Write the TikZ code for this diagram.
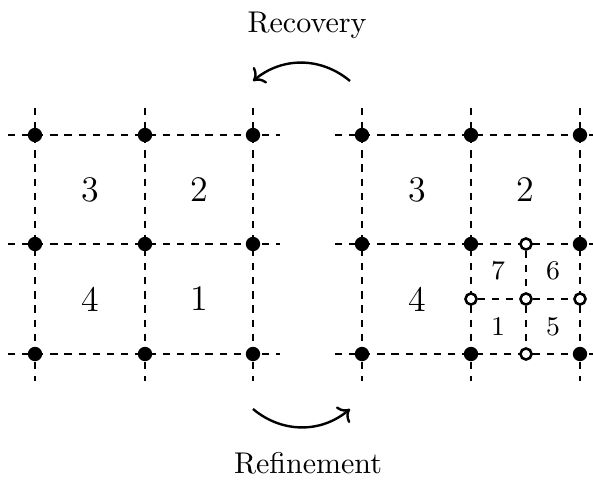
\documentclass[tikz,border=0pt]{standalone}
\usetikzlibrary{arrows.meta}
\begin{document}
\begin{tikzpicture}[x=0.3333pt,y=-0.3333pt,
  gridline/.style={dash pattern=on 2.4pt off 2.3pt, line width=0.85pt},
  fdot/.style={circle,fill=black,inner sep=0pt,minimum size=4.8pt},
  odot/.style={circle,draw=black,fill=white,line width=0.85pt,inner sep=0pt,minimum size=3.7pt},
  biglbl/.style={font=\large},
  smalllbl/.style={font=\small},
  swap/.style={line width=0.8pt,-{To[length=3.4pt,width=7pt]}}]
\useasboundingbox (0,0) rectangle (593,482);

% ---------- coarse mesh (left) ----------
\foreach \y [count=\j] in {135,244,354} {
  \coordinate (Lw\j) at (8,\y);
  \coordinate (Le\j) at (280,\y);
  \draw[gridline] (Lw\j) -- (Le\j);
}
\foreach \x [count=\i] in {35,145,253} {
  \coordinate (Ln\i) at (\x,108);
  \coordinate (Ls\i) at (\x,381);
  \draw[gridline] (Ln\i) -- (Ls\i);
}
\foreach \x [count=\i] in {35,145,253} {
  \foreach \y [count=\j] in {135,244,354} {
    \node[fdot] (L\i\j) at (\x,\y) {};
  }
}
\node[biglbl] (Lc3) at (90,190) {3};
\node[biglbl] (Lc2) at (199,190) {2};
\node[biglbl] (Lc4) at (90,299) {4};
\node[biglbl] (Lc1) at (199,299) {1};

% ---------- refined mesh (right) ----------
\foreach \y [count=\j] in {135,244,354} {
  \coordinate (Rw\j) at (335,\y);
  \coordinate (Re\j) at (607,\y);
  \draw[gridline] (Rw\j) -- (Re\j);
}
\foreach \x [count=\i] in {362,471,580} {
  \coordinate (Rn\i) at (\x,108);
  \coordinate (Rs\i) at (\x,381);
  \draw[gridline] (Rn\i) -- (Rs\i);
}
% hanging nodes of the split cell
\node[odot] (Htop) at (526,244) {};
\node[odot] (Hleft) at (471,299) {};
\node[odot] (Hmid) at (526,299) {};
\node[odot] (Hright) at (580,299) {};
\node[odot] (Hbot) at (526,354) {};
\draw[gridline] (Htop) -- (Hmid) -- (Hbot);
\draw[gridline] (Hleft) -- (Hmid) -- (Hright);
\foreach \x [count=\i] in {362,471,580} {
  \foreach \y [count=\j] in {135,244,354} {
    \node[fdot] (R\i\j) at (\x,\y) {};
  }
}
\node[biglbl] (Rc3) at (417,190) {3};
\node[biglbl] (Rc2) at (525,190) {2};
\node[biglbl] (Rc4) at (417,299) {4};
\node[smalllbl] (Rc7) at (498,271) {7};
\node[smalllbl] (Rc6) at (553,271) {6};
\node[smalllbl] (Rc1) at (498,327) {1};
\node[smalllbl] (Rc5) at (553,327) {5};

% ---------- transfer arrows ----------
\coordinate (ta) at (350,81);
\coordinate (tb) at (253,81);
\draw[swap] (ta) to[bend right=40] (tb);
\node[anchor=base] (recovery) at (307,32) {Recovery};

\coordinate (ba) at (253,409);
\coordinate (bb) at (350,409);
\draw[swap] (ba) to[bend right=40] (bb);
\node[anchor=base] (refinement) at (308,473) {Refinement};
\end{tikzpicture}
\end{document}
